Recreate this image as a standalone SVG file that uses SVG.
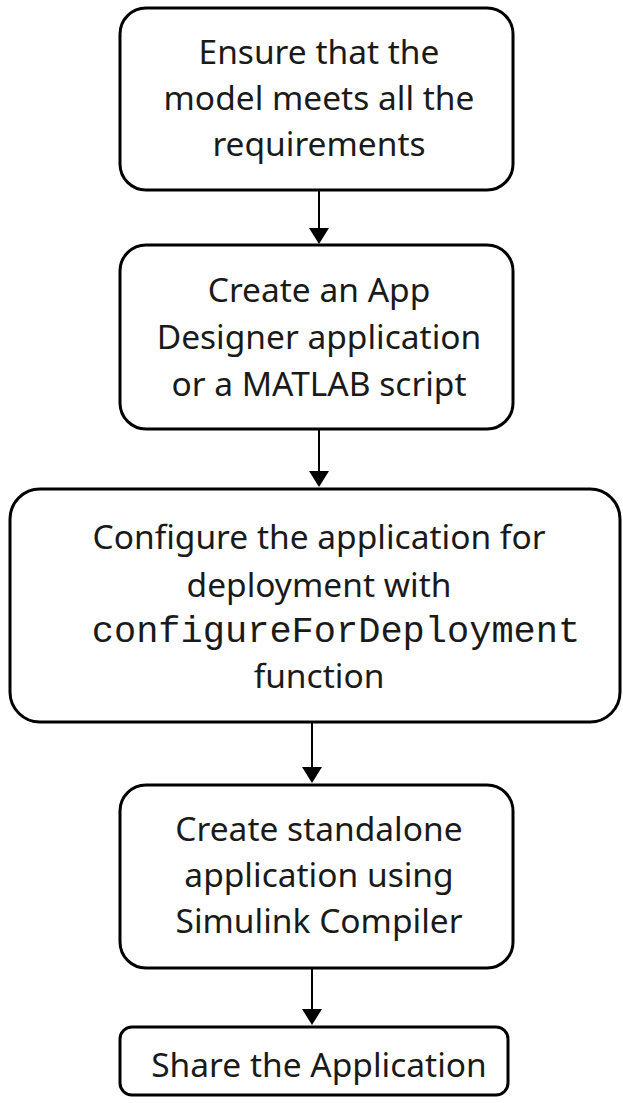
<svg xmlns="http://www.w3.org/2000/svg" width="623" height="1103" viewBox="0 0 623 1103">
<style>
.box{fill:#fff;stroke:#000;stroke-width:3}
.t{font-family:"Noto Sans","Open Sans",sans-serif;font-size:33.5px;fill:#1a1a1a;text-anchor:middle}
.m{font-family:"Liberation Mono","Courier New",monospace;font-size:37px;fill:#1a1a1a;text-anchor:middle}
.c{stroke:#000;stroke-width:2;fill:none}
</style>
<rect width="623" height="1103" fill="#fff"/>
<g id="connectors">
<line class="c" x1="319" y1="190" x2="319" y2="230"/>
<path d="M309,228 L329,228 L319,244 Z"/>
<line class="c" x1="319" y1="429" x2="319" y2="472"/>
<path d="M309,471 L329,471 L319,487 Z"/>
<line class="c" x1="312" y1="722" x2="312" y2="768"/>
<path d="M302,767 L322,767 L312,783 Z"/>
<line class="c" x1="312" y1="968" x2="312" y2="1010"/>
<path d="M302,1009 L322,1009 L312,1025 Z"/>
</g>
<g id="n1">
<rect class="box" x="120" y="8" width="393" height="182" rx="26"/>
<text class="t" x="319" y="64">Ensure that the</text>
<text class="t" x="319" y="110">model meets all the</text>
<text class="t" x="319" y="156">requirements</text>
</g>
<g id="n2">
<rect class="box" x="120" y="245" width="393" height="184" rx="26"/>
<text class="t" x="319" y="302">Create an App</text>
<text class="t" x="319" y="349">Designer application</text>
<text class="t" x="319" y="396">or a MATLAB script</text>
</g>
<g id="n3">
<rect class="box" x="10" y="489" width="610" height="233" rx="30"/>
<text class="t" x="319" y="549">Configure the application for</text>
<text class="t" x="319" y="597">deployment with</text>
<text class="m" x="336" y="642">configureForDeployment</text>
<text class="t" x="319" y="688">function</text>
</g>
<g id="n4">
<rect class="box" x="120" y="785" width="393" height="183" rx="26"/>
<text class="t" x="319" y="841">Create standalone</text>
<text class="t" x="319" y="887">application using</text>
<text class="t" x="319" y="933">Simulink Compiler</text>
</g>
<g id="n5">
<rect class="box" x="120" y="1027" width="388" height="68" rx="12"/>
<text class="t" x="319" y="1077">Share the Application</text>
</g>
</svg>
